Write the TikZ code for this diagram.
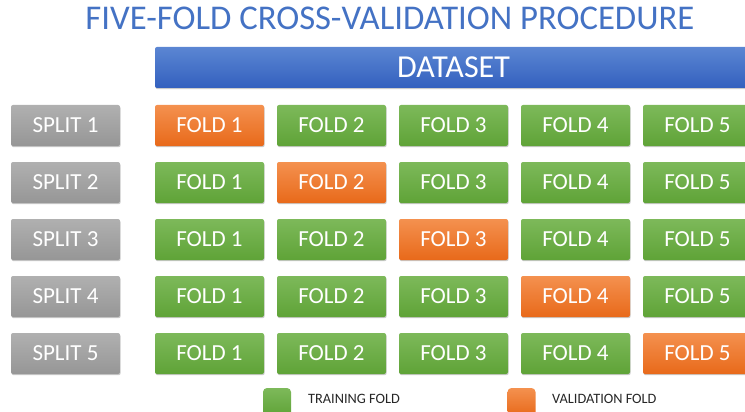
\documentclass[tikz,border=0pt]{standalone}
\usepackage{fontspec}
\setmainfont{Carlito}
\usetikzlibrary{shadows}
\definecolor{titleblue}{HTML}{4472C4}
\definecolor{bluetop}{HTML}{5B86D3}
\definecolor{bluebot}{HTML}{3360BE}
\definecolor{orangetop}{HTML}{F4914F}
\definecolor{orangebot}{HTML}{E8691A}
\definecolor{greentop}{HTML}{7DB95A}
\definecolor{greenbot}{HTML}{5FA337}
\definecolor{graytop}{HTML}{B0B0B0}
\definecolor{graybot}{HTML}{969696}
\definecolor{legtext}{HTML}{262626}
\tikzset{
  x=1pt, y=-1pt,
  box/.style={rounded corners=2pt, minimum width=109pt, minimum height=41pt, inner sep=0pt,
    text=white, font=\fontsize{23}{26}\selectfont,
    drop shadow={shadow xshift=0.6pt, shadow yshift=-1.2pt, opacity=0.35, fill=black!60}},
  trainbox/.style={box, top color=greentop, bottom color=greenbot},
  validbox/.style={box, top color=orangetop, bottom color=orangebot},
  splitbox/.style={box, top color=graytop, bottom color=graybot},
  legsq/.style={rounded corners=4pt, minimum width=28pt, minimum height=28pt, inner sep=0pt},
  legtxt/.style={anchor=west, inner sep=0pt, text=legtext, font=\fontsize{14.3}{16}\selectfont},
}
\begin{document}
\begin{tikzpicture}
\useasboundingbox (0,0) rectangle (745,412);
\clip (0,0) rectangle (745,412);
\node[text=titleblue, font=\fontsize{34.7}{38}\selectfont, inner sep=0pt] (title) at (390,18.5) {FIVE-FOLD CROSS-VALIDATION PROCEDURE};
\node[box, minimum width=597pt, top color=bluetop, bottom color=bluebot, font=\fontsize{32}{34}\selectfont] (dataset) at (453.5,67.5) {DATASET};
\foreach \r in {1,...,5}{
  \pgfmathsetmacro{\yy}{125.5+57*(\r-1)}
  \node[splitbox] (split\r) at (65.5,\yy) {SPLIT \r};
  \foreach \f in {1,...,5}{
    \pgfmathsetmacro{\xx}{209.5+122*(\f-1)}
    \ifnum\f=\r
      \node[validbox] (fold\r\f) at (\xx,\yy) {FOLD \f};
    \else
      \node[trainbox] (fold\r\f) at (\xx,\yy) {FOLD \f};
    \fi
  }
}
\node[legsq, top color=greentop, bottom color=greenbot] (legtrain) at (277,402) {};
\node[legtxt] (legtraintxt) at (308,399) {TRAINING FOLD};
\node[legsq, top color=orangetop, bottom color=orangebot] (legvalid) at (521.5,402) {};
\node[legtxt] (legvalidtxt) at (552,399) {VALIDATION FOLD};
\end{tikzpicture}
\end{document}
